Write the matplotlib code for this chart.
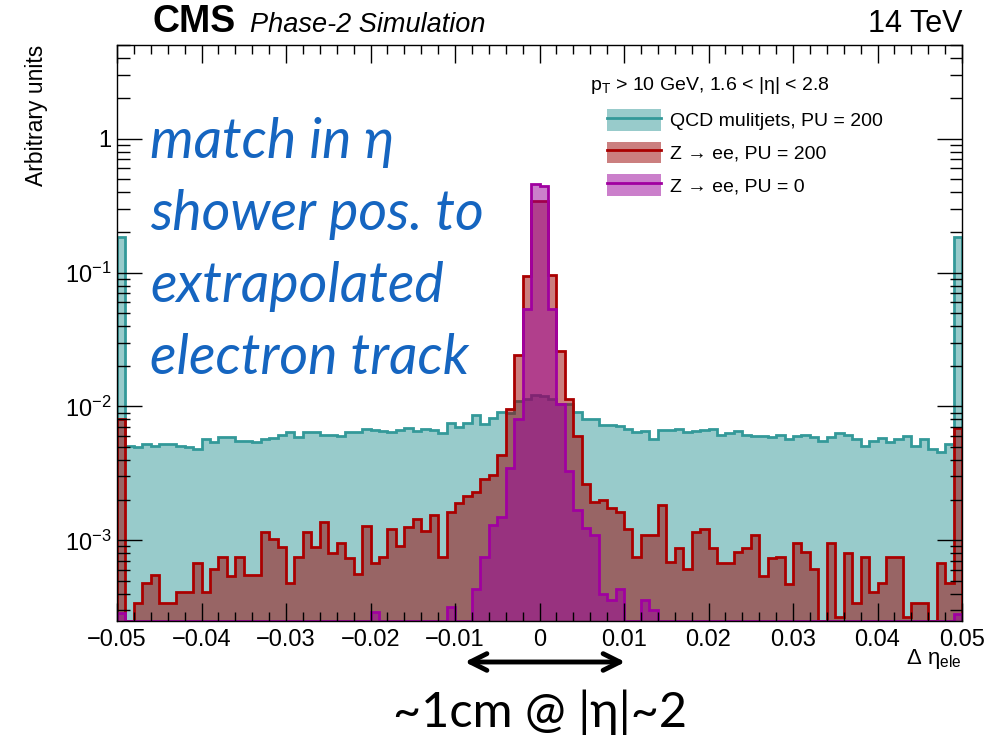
import numpy as np
import matplotlib
matplotlib.use("Agg")
import matplotlib.pyplot as plt
from matplotlib.patches import Patch, FancyArrowPatch
from matplotlib.lines import Line2D
from matplotlib.ticker import MultipleLocator, FixedLocator, FixedFormatter, LogLocator, NullFormatter

plt.rcParams['font.family'] = ['Liberation Sans', 'DejaVu Sans']
plt.rcParams['mathtext.fontset'] = 'custom'
plt.rcParams['mathtext.rm'] = 'Liberation Sans'
plt.rcParams['mathtext.it'] = 'Liberation Sans:italic'
plt.rcParams['mathtext.bf'] = 'Liberation Sans:bold'

# 100 bins of delta eta in [-0.05, 0.05]
x_lo, x_hi, n_bins = -0.05, 0.05, 100

# bin contents, in units of 1e-3 (arbitrary units)
qcd_pu200 = [185, 5.1, 5.0, 5.2, 5.05, 5.2, 5.25, 5.1, 4.95, 4.8,
             5.7, 5.45, 5.9, 5.9, 5.55, 5.55, 5.45, 5.75, 5.85, 6.1,
             6.5, 5.9, 6.5, 6.45, 6.1, 6.1, 6.0, 6.45, 6.4, 6.8,
             6.65, 6.55, 6.4, 6.65, 6.9, 6.55, 6.75, 6.65, 6.3, 7.55,
             7.05, 7.55, 8.7, 7.45, 8.2, 9.15, 8.9, 10.9, 11.3, 12.1,
             12.0, 11.3, 10.35, 10.35, 9.1, 8.1, 8.0, 7.33, 7.33, 7.2,
             6.73, 6.45, 6.55, 5.67, 6.65, 6.65, 6.8, 6.45, 6.55, 6.65,
             6.8, 6.08, 6.3, 6.55, 6.08, 6.0, 6.0, 5.95, 6.1, 5.75,
             6.0, 6.1, 5.9, 5.55, 5.9, 6.3, 6.1, 5.75, 5.1, 5.55,
             5.8, 5.4, 5.75, 6.0, 5.1, 5.7, 4.85, 4.57, 5.25, 185]

zee_pu200 = [8.0, 0, 0.343, 0.478, 0.548, 0.343, 0.343, 0.41, 0.41, 0.68,
             0.41, 0.615, 0.75, 0.54, 0.75, 0.548, 0.548, 1.15, 1.02, 0.89,
             0.478, 0.75, 1.15, 0.89, 1.36, 0.81, 0.95, 0.74, 0.557, 1.29,
             0.68, 0.75, 1.22, 0.906, 1.25, 1.45, 1.17, 1.56, 0.75, 1.64,
             1.91, 2.13, 2.3, 2.85, 3.1, 4.35, 9.5, 24.4, 93.8, 340,
             340, 96.6, 25.9, 11.4, 6.0, 2.65, 1.93, 1.99, 1.73, 1.63,
             1.22, 0.75, 1.1, 1.1, 1.83, 0.69, 0.88, 0.615, 1.15, 1.22,
             0.88, 0.68, 0.68, 0.82, 0.88, 1.09, 0.54, 0.74, 0.75, 0.475,
             0.95, 0.82, 0.615, 0, 0.95, 0.27, 0.81, 0.343, 0.75, 0.41,
             0.478, 0.75, 0.75, 0.27, 0.34, 0.34, 0, 0.68, 0.478, 6.9]

zee_pu0 = [0.285, 0, 0, 0, 0, 0, 0, 0, 0, 0,
           0, 0, 0, 0, 0, 0, 0, 0, 0, 0,
           0, 0, 0, 0, 0, 0, 0, 0, 0, 0,
           0.29, 0, 0, 0, 0, 0, 0, 0, 0, 0.32,
           0, 0, 0.43, 0.75, 1.3, 1.5, 3.45, 8.1, 53, 459,
           445, 53, 10.5, 3.27, 1.7, 1.23, 1.1, 0.395, 0.36, 0.43,
           0, 0, 0.36, 0.30, 0, 0, 0, 0, 0, 0,
           0, 0, 0, 0, 0, 0, 0, 0, 0, 0,
           0, 0, 0, 0, 0, 0, 0, 0, 0, 0,
           0, 0, 0, 0, 0, 0, 0, 0, 0, 0.28]

labels = ['QCD mulitjets, PU = 200', 'Z \u2192 ee, PU = 200', 'Z \u2192 ee, PU = 0']
fill_colors = ['#339999', '#990000', '#990099']
line_colors = ['#339999', '#aa0000', '#a000a0']

xticks = [-0.05, -0.04, -0.03, -0.02, -0.01, 0, 0.01, 0.02, 0.03, 0.04, 0.05]
xtick_labels = ['\u22120.05', '\u22120.04', '\u22120.03', '\u22120.02', '\u22120.01', '0',
                '0.01', '0.02', '0.03', '0.04', '0.05']
yticks = [1e-3, 1e-2, 1e-1, 1]
ytick_labels = [r'$10^{-3}$', r'$10^{-2}$', r'$10^{-1}$', '1']
ymin, ymax = 2.5e-4, 5.0

blue_lines = ['match in \u03b7', 'shower pos. to', 'extrapolated', 'electron track']

W, H = 993, 735
fig = plt.figure(figsize=(W / 100, H / 100), dpi=100)
ax = fig.add_axes([117 / W, 1 - 621 / H, 845 / W, 576 / H])

edges = np.linspace(x_lo, x_hi, n_bins + 1)
for vals, fc, lc in zip([qcd_pu200, zee_pu200, zee_pu0], fill_colors, line_colors):
    v = np.clip(np.array(vals) * 1e-3, ymin, None)
    ax.stairs(v, edges, baseline=ymin, fill=True, color=fc, alpha=0.5, lw=0)
    ax.stairs(v, edges, baseline=ymin, color=lc, lw=2)

ax.set_yscale('log')
ax.set_xlim(x_lo, x_hi)
ax.set_ylim(ymin, ymax)

ax.xaxis.set_major_locator(FixedLocator(xticks))
ax.xaxis.set_major_formatter(FixedFormatter(xtick_labels))
ax.xaxis.set_minor_locator(MultipleLocator(0.002))
ax.yaxis.set_major_locator(FixedLocator(yticks))
ax.yaxis.set_major_formatter(FixedFormatter(ytick_labels))
ax.yaxis.set_minor_locator(LogLocator(base=10, subs=np.arange(2, 10)))
ax.yaxis.set_minor_formatter(NullFormatter())

ax.tick_params(which='both', direction='in', top=True, right=True, width=1, labelsize=17)
ax.tick_params(axis='x', which='major', length=13, pad=6)
ax.tick_params(axis='x', which='minor', length=6.5)
ax.tick_params(axis='y', which='major', length=18, pad=4)
ax.tick_params(axis='y', which='minor', length=9)
for s in ax.spines.values():
    s.set_linewidth(1)

ax.set_ylabel('Arbitrary units', fontsize=16.5, loc='top')
ax.yaxis.set_label_coords(-0.082, 1.0)
ax.set_xlabel('\u0394 \u03b7' + r'$_{\mathrm{ele}}$', fontsize=16, loc='right')
ax.xaxis.set_label_coords(1.0, -0.045)

# header
fig.text(153 / W, 1 - 32 / H, 'CMS', fontsize=27, fontweight='bold', va='baseline')
fig.text(250 / W, 1 - 32 / H, 'Phase-2 Simulation', fontsize=19.5, style='italic', va='baseline')
fig.text(962 / W, 1 - 32 / H, '14 TeV', fontsize=22, ha='right', va='baseline')

# legend
fig.text(590 / W, 1 - 85 / H, r'$\mathrm{p}_{\mathrm{T}}$' + ' > 10 GeV, 1.6 < |\u03b7| < 2.8',
         fontsize=14, va='center')
handles = [(Patch(facecolor=fc, alpha=0.5, edgecolor='none'), Line2D([], [], color=lc, lw=2))
           for fc, lc in zip(fill_colors, line_colors)]
fig.legend(handles, labels, loc='upper left', bbox_to_anchor=(607 / W, 1 - 109 / H),
           frameon=False, borderpad=0, borderaxespad=0, fontsize=14,
           handlelength=2.8, handleheight=1.34, labelspacing=0.56, handletextpad=0.45)

# overlay annotations
blue_font = ['Lato', 'DejaVu Sans']
for i, line in enumerate(blue_lines):
    fig.text(150 / W, 1 - (158 + 72 * i) / H, line, fontsize=40, style='italic',
             color='#1565c0', family=blue_font, va='baseline')

fig.add_artist(FancyArrowPatch(
    (462 / W, 1 - 662 / H), (628 / W, 1 - 662 / H), transform=fig.transFigure,
    arrowstyle='<->', mutation_scale=30, lw=3.5, color='black'))
fig.text(540 / W, 1 - 712 / H, '~1cm @ |\u03b7|~2', fontsize=35, ha='center', va='center',
         family=blue_font)

fig.savefig('out.png', dpi=100)
